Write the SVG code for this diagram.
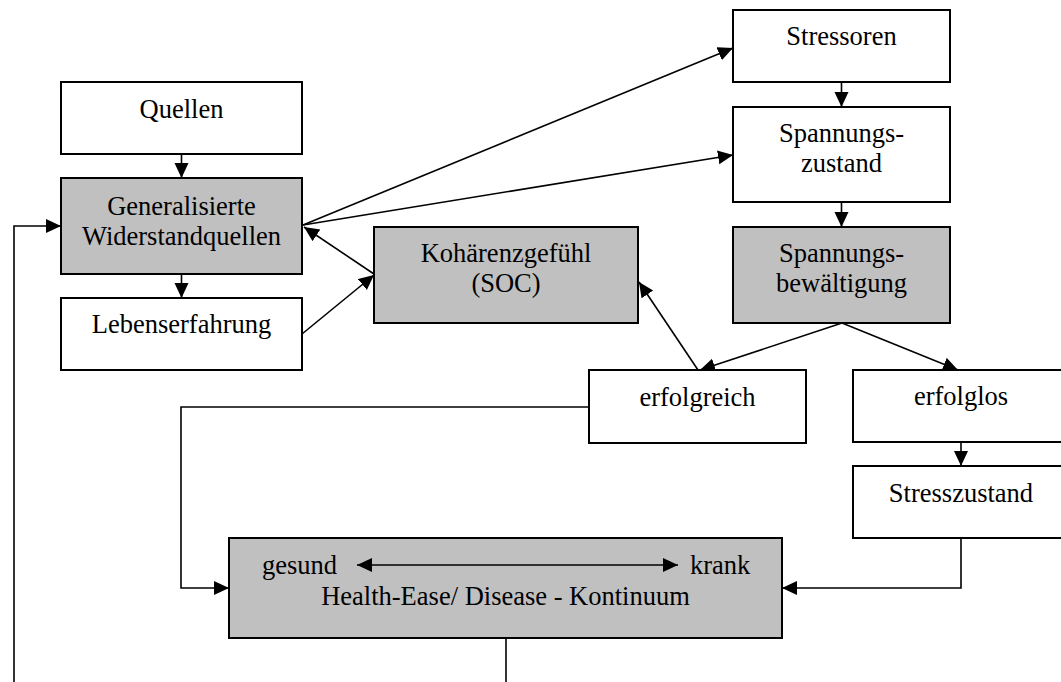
<svg xmlns="http://www.w3.org/2000/svg" width="1061" height="682" viewBox="0 0 1061 682">
<style>
.box{stroke:#000;stroke-width:2;fill:#fff}
.gray{fill:#c0c0c0}
.t{font-family:"Liberation Serif","Times New Roman",serif;font-size:26.5px;fill:#000;text-anchor:middle}
.c{stroke:#000;stroke-width:1.6;fill:none}
.a{marker-end:url(#ah)}
</style>
<defs>
<marker id="ah" markerUnits="userSpaceOnUse" markerWidth="16" markerHeight="16" refX="15" refY="7" orient="auto" viewBox="0 0 16 16">
<path d="M0,0 L15,7 L0,14 z" fill="#000"/>
</marker>
<marker id="ahs" markerUnits="userSpaceOnUse" markerWidth="16" markerHeight="16" refX="15" refY="7" orient="auto-start-reverse" viewBox="0 0 16 16">
<path d="M0,0 L15,7 L0,14 z" fill="#000"/>
</marker>
</defs>
<rect width="1061" height="682" fill="#fff"/>
<g id="connectors">
<line class="c a" x1="181.5" y1="154" x2="181.5" y2="178"/>
<line class="c a" x1="181.5" y1="274" x2="181.5" y2="298"/>
<line class="c a" x1="841.5" y1="82" x2="841.5" y2="107"/>
<line class="c a" x1="841.5" y1="202" x2="841.5" y2="227"/>
<line class="c a" x1="961" y1="442" x2="961" y2="466"/>
<line class="c a" x1="303" y1="225" x2="733" y2="48"/>
<line class="c a" x1="303" y1="225" x2="733" y2="155"/>
<line class="c a" x1="374" y1="274" x2="304" y2="227"/>
<line class="c a" x1="302" y1="334" x2="374" y2="275"/>
<line class="c a" x1="842" y1="323" x2="700" y2="370"/>
<line class="c a" x1="842" y1="323" x2="958" y2="370"/>
<line class="c a" x1="698" y1="370" x2="639" y2="282"/>
<polyline class="c a" points="589,407 181,407 181,588 229,588"/>
<polyline class="c a" points="961,538 961,588 782,588"/>
<line class="c" x1="506" y1="638" x2="506" y2="682"/>
<polyline class="c a" points="14,682 14,226 61,226"/>
</g>
<g id="quellen">
<rect class="box" x="61" y="82" width="241" height="72"/>
<text class="t" x="181.5" y="118">Quellen</text>
</g>
<g id="generalisierte">
<rect class="box gray" x="61" y="178" width="241" height="96"/>
<text class="t" x="181.5" y="215">Generalisierte</text>
<text class="t" x="181.5" y="245">Widerstandquellen</text>
</g>
<g id="lebenserfahrung">
<rect class="box" x="61" y="298" width="241" height="72"/>
<text class="t" x="181.5" y="333">Lebenserfahrung</text>
</g>
<g id="koherenz">
<rect class="box gray" x="374" y="227" width="264" height="96"/>
<text class="t" x="506" y="262">Kohärenzgefühl</text>
<text class="t" x="506" y="292">(SOC)</text>
</g>
<g id="stressoren">
<rect class="box" x="733" y="10" width="217" height="72"/>
<text class="t" x="841.5" y="45">Stressoren</text>
</g>
<g id="spannungszustand">
<rect class="box" x="733" y="107" width="217" height="95"/>
<text class="t" x="841.5" y="142">Spannungs-</text>
<text class="t" x="841.5" y="172">zustand</text>
</g>
<g id="spannungsbewaeltigung">
<rect class="box gray" x="733" y="227" width="217" height="96"/>
<text class="t" x="841.5" y="262">Spannungs-</text>
<text class="t" x="841.5" y="292">bewältigung</text>
</g>
<g id="erfolgreich">
<rect class="box" x="589" y="370" width="217" height="73"/>
<text class="t" x="697.5" y="406">erfolgreich</text>
</g>
<g id="erfolglos">
<rect class="box" x="853" y="370" width="216" height="72"/>
<text class="t" x="961" y="405">erfolglos</text>
</g>
<g id="stresszustand">
<rect class="box" x="853" y="466" width="216" height="72"/>
<text class="t" x="961" y="502">Stresszustand</text>
</g>
<g id="kontinuum">
<rect class="box gray" x="229" y="538" width="553" height="100"/>
<line class="c" x1="357" y1="565" x2="678" y2="565" marker-start="url(#ahs)" marker-end="url(#ah)"/>
<text class="t" x="262" y="574" style="text-anchor:start">gesund</text>
<text class="t" x="690" y="574" style="text-anchor:start">krank</text>
<text class="t" x="505.5" y="605">Health-Ease/ Disease - Kontinuum</text>
</g>
</svg>
